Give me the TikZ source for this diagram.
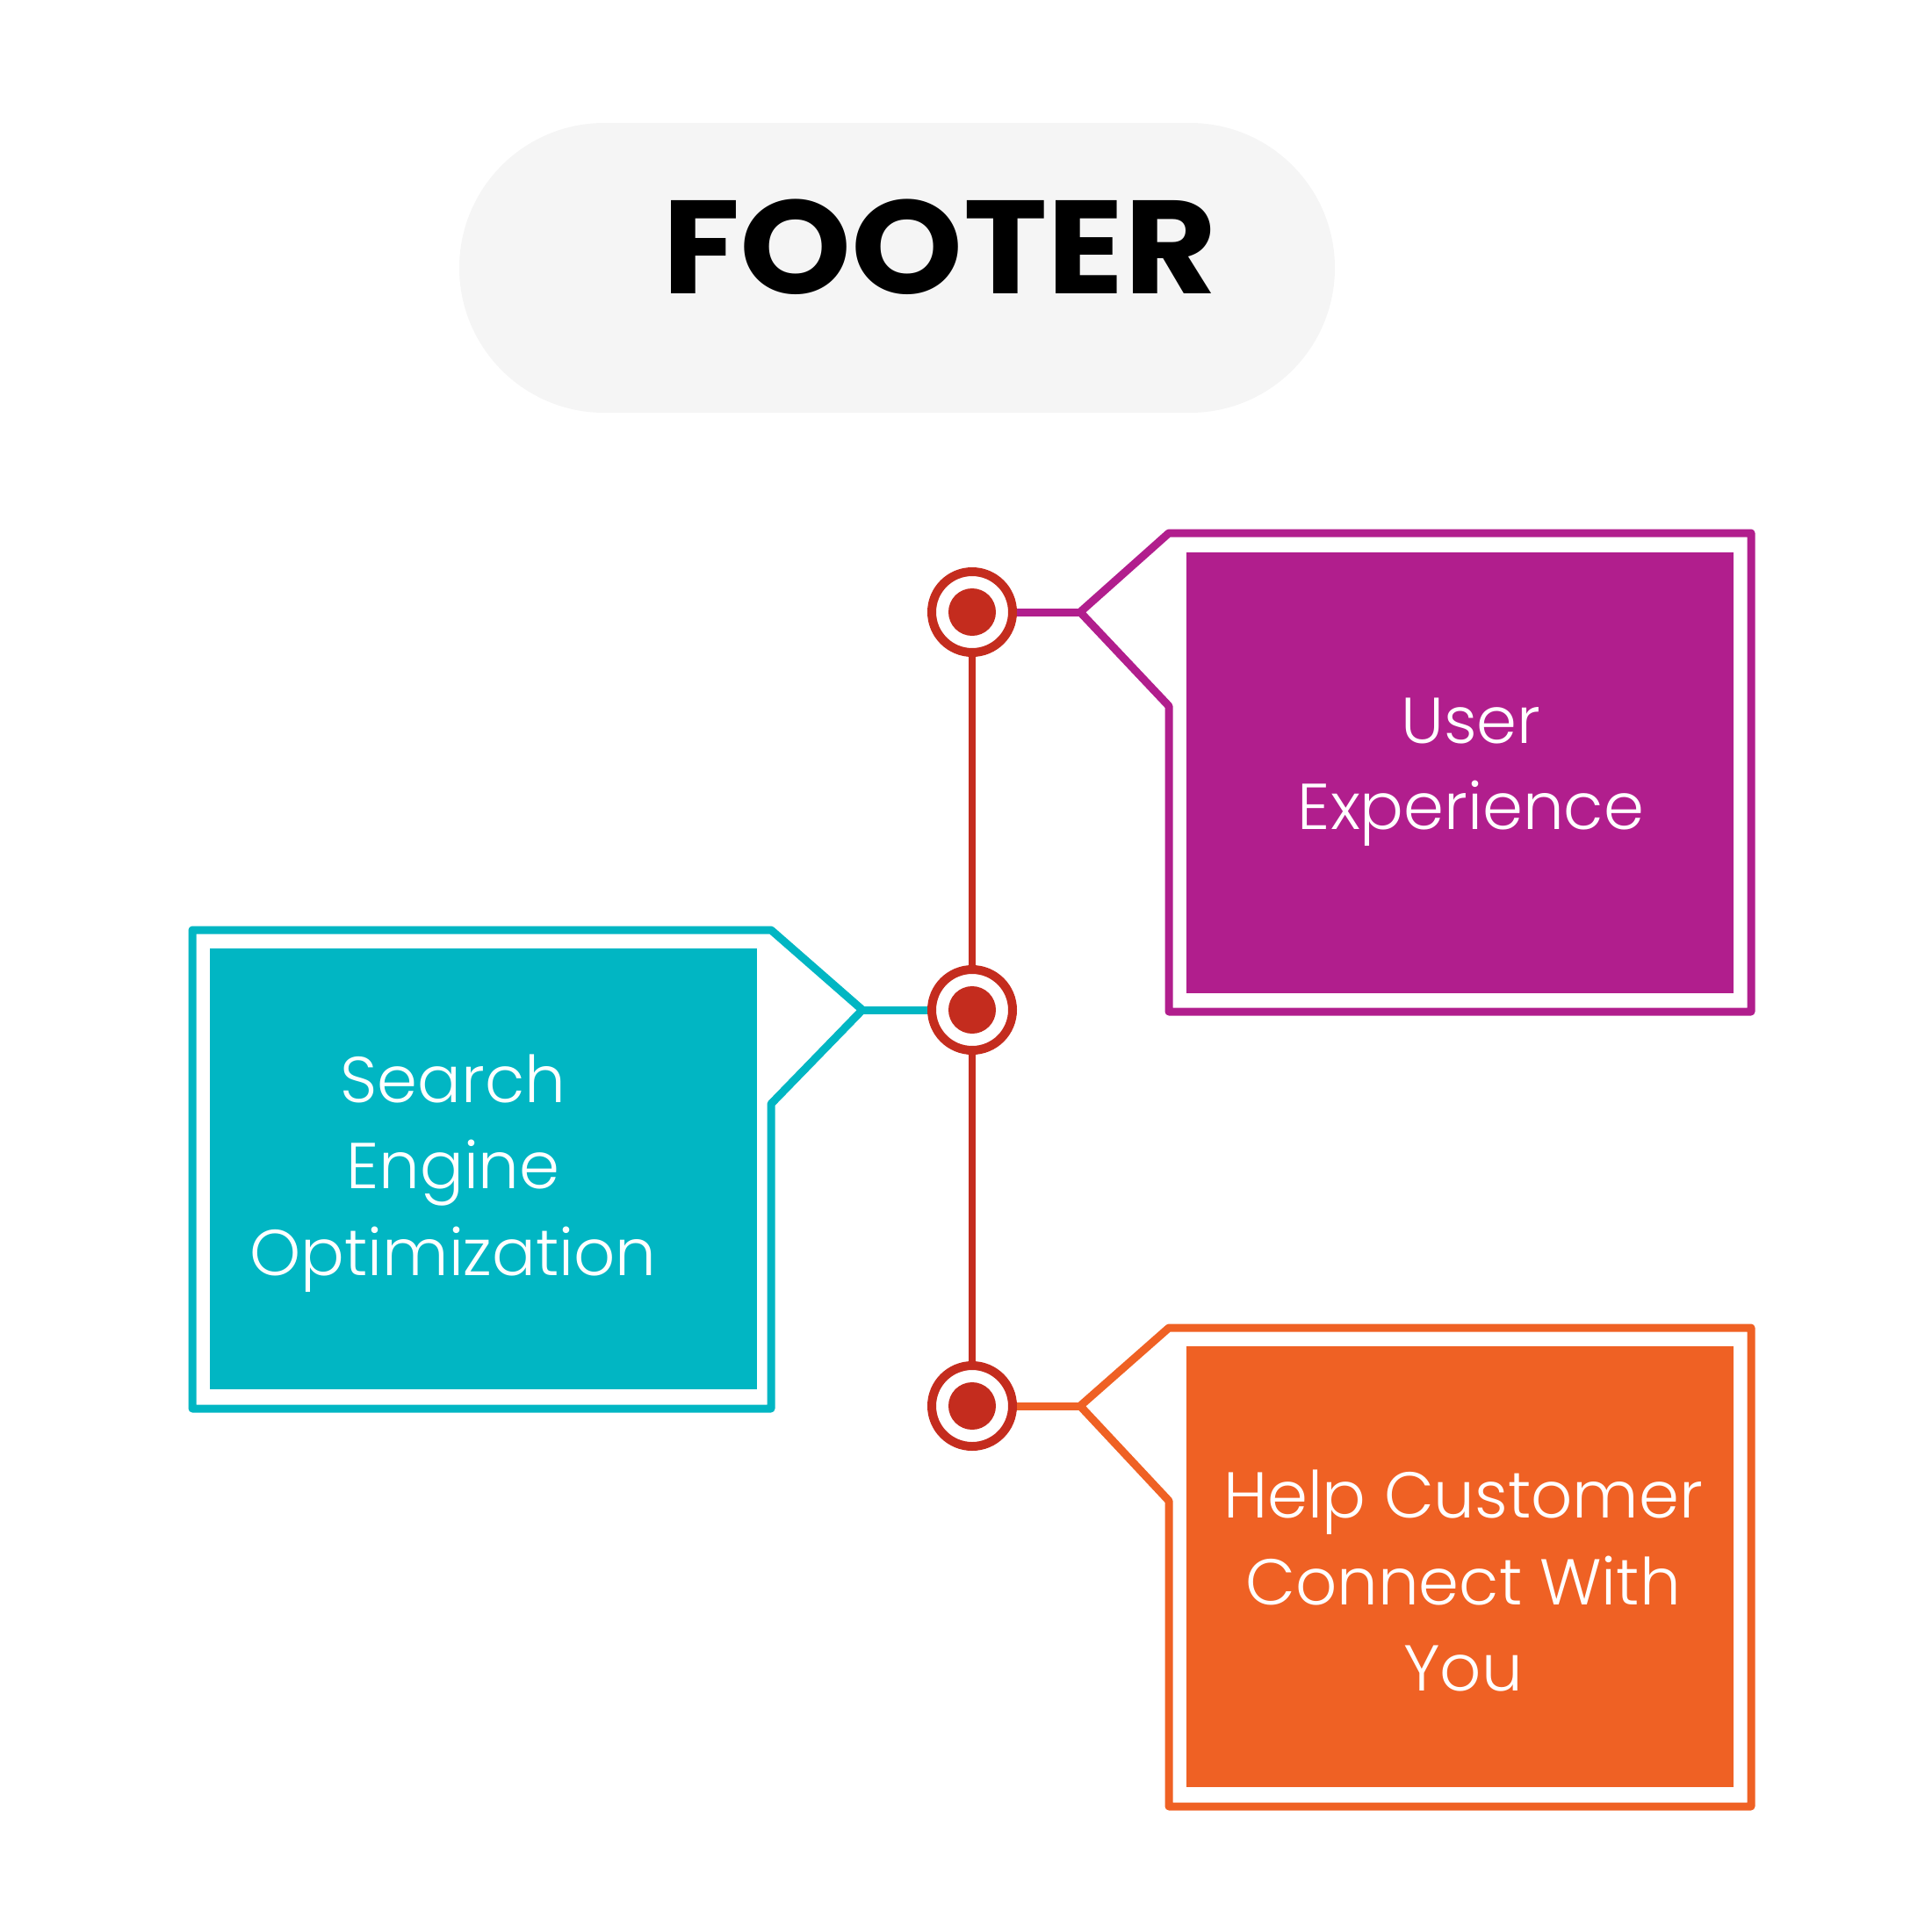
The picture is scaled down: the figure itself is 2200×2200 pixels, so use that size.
\documentclass[tikz,border=0pt]{standalone}
\usepackage{fontspec}
\setmainfont{Poppins}
\newfontfamily\titlefont{Poppins Bold}[FakeStretch=1.07]
\newfontfamily\labelfont{Poppins Light}
\usetikzlibrary{positioning,calc}
\definecolor{pillgray}{HTML}{F5F5F5}
\definecolor{hubred}{HTML}{C42C1E}
\definecolor{uxpurple}{HTML}{B11E8D}
\definecolor{seoteal}{HTML}{01B6C3}
\definecolor{helporange}{HTML}{EF6124}
\tikzset{
  pill/.style={fill=pillgray, rounded corners=16.5mm},
  ring/.style={circle, draw=hubred, fill=white, line width=1.0mm, minimum size=9.2mm, inner sep=0pt},
  dot/.style={circle, fill=hubred, minimum size=5.4mm, inner sep=0pt},
  spine/.style={draw=hubred, line width=0.85mm},
  frame/.style={line width=0.9mm, line join=round},
  card/.style={rectangle, minimum width=62.3mm, minimum height=50.2mm, inner sep=0pt},
  cardtext/.style={text=white, align=center, font=\labelfont\fontsize{21}{28}\selectfont}
}

\begin{document}
\begin{tikzpicture}[x=0.1mm, y=-0.1mm]
\useasboundingbox (0,0) rectangle (2200,2200);

% title
\fill[pill] (523,140) rectangle (1520,470);
\node[font=\titlefont\fontsize{43}{43}\selectfont] (title) at (1070,281) {FOOTER};

% hub
\node[ring] (hubux) at (1107,697) {};
\node[ring] (hubseo) at (1107,1150) {};
\node[ring] (hubhelp) at (1107,1601) {};
\draw[spine] (hubux.south) -- (hubseo.north);
\draw[spine] (hubseo.south) -- (hubhelp.north);
\node[dot] at (hubux) {};
\node[dot] at (hubseo) {};
\node[dot] at (hubhelp) {};

% user experience
\coordinate (uxtip) at (1230,697);
\draw[frame, draw=uxpurple] (hubux.east) -- (uxtip);
\draw[frame, draw=uxpurple] (uxtip) -- (1331,607) -- (1994,607) -- (1994,1152) -- (1331,1152) -- (1331,804) -- cycle;
\node[card, fill=uxpurple] (uxbox) at (1662,880) {};
\node[cardtext] (uxtext) at (1675,879) {User\\Experience};

% search engine optimization
\coordinate (seotip) at (982,1150);
\draw[frame, draw=seoteal] (hubseo.west) -- (seotip);
\draw[frame, draw=seoteal] (seotip) -- (878,1059) -- (219,1059) -- (219,1604) -- (878,1604) -- (878,1257) -- cycle;
\node[card, fill=seoteal] (seobox) at (550,1331) {};
\node[cardtext] (seotext) at (516,1336) {Search\\Engine\\Optimization};

% help customer
\coordinate (helptip) at (1230,1601);
\draw[frame, draw=helporange] (hubhelp.east) -- (helptip);
\draw[frame, draw=helporange] (helptip) -- (1331,1512) -- (1994,1512) -- (1994,2057) -- (1331,2057) -- (1331,1709) -- cycle;
\node[card, fill=helporange] (helpbox) at (1662,1784) {};
\node[cardtext] (helptext) at (1666,1800) {Help Customer\\Connect With\\You};
\end{tikzpicture}
\end{document}
